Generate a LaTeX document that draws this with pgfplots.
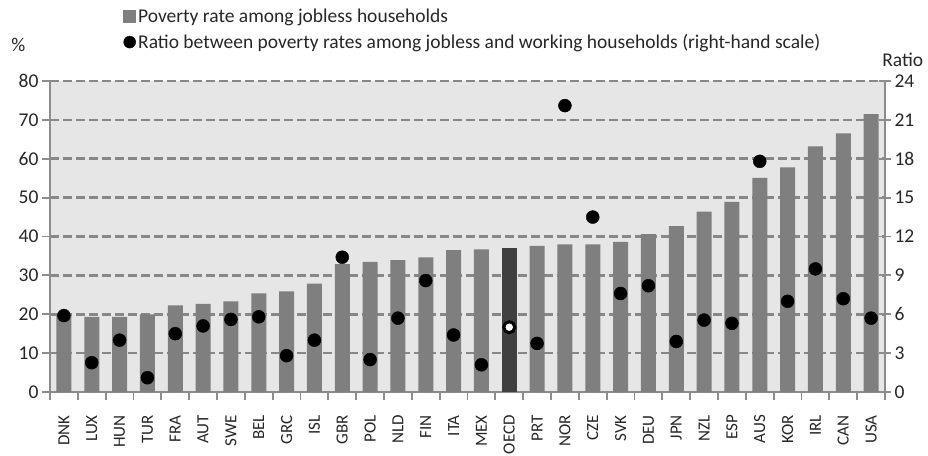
\documentclass[border=0pt]{standalone}
\usepackage{pgfplots}
\pgfplotsset{compat=1.18}
\usepackage{fontspec}
\setmainfont{Carlito}
\definecolor{barcol}{HTML}{7F7F7F}
\definecolor{oecdcol}{HTML}{404040}
\definecolor{bgcol}{HTML}{E6E6E6}
\definecolor{gridcol}{HTML}{878787}
\definecolor{txtcol}{HTML}{262626}
\definecolor{axcol}{HTML}{8C8C8C}
\begin{document}
\begin{tikzpicture}[font=\fontsize{19.5}{22}\selectfont]
\path[use as bounding box] (-50pt,-63pt) rectangle (878pt,392pt);
\begin{axis}[
  at={(0pt,0pt)}, anchor=south west,
  scale only axis, width=835pt, height=311pt,
  xmin=-0.5, xmax=29.5, ymin=0, ymax=80,
  ytick={0,10,...,80},
  xtick={-0.5,0.5,...,29.5},
  x tick label as interval=true,
  xticklabels={DNK,LUX,HUN,TUR,FRA,AUT,SWE,BEL,GRC,ISL,GBR,POL,NLD,FIN,ITA,MEX,OECD,PRT,NOR,CZE,SVK,DEU,JPN,NZL,ESP,AUS,KOR,IRL,CAN,USA},
  x tick label style={rotate=90, anchor=east, inner sep=0pt, text=txtcol, font=\fontsize{17}{19}\selectfont},
  xticklabel shift=15pt,
  y tick label style={text=txtcol},
  /pgf/number format/assume math mode=true,
  axis x line*=bottom, axis y line*=left,
  axis line style={axcol, line width=1.8pt, -},
  tick style={axcol, line width=1.8pt},
  tick align=outside, major tick length=8pt,
  ymajorgrids, grid style={gridcol, line width=2.6pt, dash pattern=on 9pt off 4pt},
  axis background/.style={fill=bgcol},
  legend style={at={(0.0874,1.238)}, anchor=north west, draw=none, fill=none,
    font=\fontsize{19.5}{22}\selectfont, text=txtcol, row sep=6pt,
    legend cell align=left, inner sep=0pt},
  clip=false,
]
\addplot[ybar, bar width=15pt, fill=barcol, draw=none,
  legend image code/.code={\fill[barcol] (0pt,-6.5pt) rectangle (13pt,6.5pt);}]
  coordinates {(0,19.8) (1,19.3) (2,19.3) (3,20.0) (4,22.3) (5,22.7) (6,23.3) (7,25.4) (8,25.9) (9,27.9)
  (10,32.9) (11,33.5) (12,33.9) (13,34.6) (14,36.5) (15,36.7) (17,37.6) (18,38.0) (19,38.0)
  (20,38.6) (21,40.6) (22,42.7) (23,46.4) (24,48.9) (25,55.1) (26,57.8) (27,63.2) (28,66.5) (29,71.5)};
\addlegendentry{Poverty rate among jobless households}
\addplot[ybar, bar width=15pt, fill=oecdcol, draw=none, forget plot]
  coordinates {(16,37.1)};
\addlegendimage{only marks, mark=*, mark size=6pt, black, legend image code/.code={\fill[black] (6.5pt,0pt) circle (6pt);}}
\addlegendentry{Ratio between poverty rates among jobless and working households (right-hand scale)}
\node[anchor=center, text=txtcol] at (rel axis cs:-0.038,1.116) {\%};
\node[anchor=east, text=txtcol] at (rel axis cs:1.05,1.068) {Ratio};
\end{axis}
\begin{axis}[
  at={(0pt,0pt)}, anchor=south west,
  scale only axis, width=835pt, height=311pt,
  xmin=-0.5, xmax=29.5, ymin=0, ymax=24,
  ytick={0,3,...,24},
  axis x line=none, axis y line*=right,
  axis line style={axcol, line width=1.8pt, -},
  tick style={axcol, line width=1.8pt},
  tick align=center, major tick length=12pt,
  y tick label style={text=txtcol},
  /pgf/number format/assume math mode=true,
  clip=false,
]
\addplot[only marks, mark=*, mark size=6.5pt, black]
  coordinates {(0,5.9) (1,2.26) (2,4.0) (3,1.1) (4,4.5) (5,5.1) (6,5.6) (7,5.8) (8,2.8) (9,4.0)
  (10,10.4) (11,2.5) (12,5.7) (13,8.6) (14,4.4) (15,2.1) (17,3.75) (18,22.1) (19,13.5)
  (20,7.6) (21,8.2) (22,3.9) (23,5.55) (24,5.3) (25,17.8) (26,7.0) (27,9.5) (28,7.2) (29,5.7)};
\addplot[only marks, mark=*, mark size=5.5pt, mark options={fill=white, draw=black, line width=3pt}]
  coordinates {(16,5.0)};
\end{axis}
\end{tikzpicture}
\end{document}
